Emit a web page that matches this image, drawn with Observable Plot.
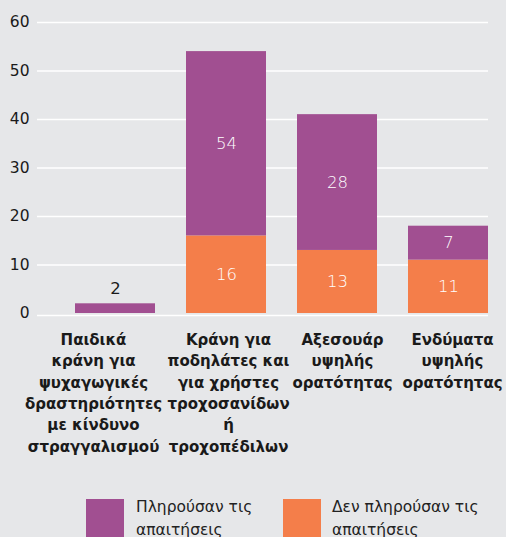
<!DOCTYPE html>
<html>
<head>
<meta charset="utf-8">
<script src="https://cdn.jsdelivr.net/npm/d3@7"></script>
<script src="https://cdn.jsdelivr.net/npm/@observablehq/plot@0.6"></script>
<style>
  html, body { margin: 0; padding: 0; background: #e6e7e9; overflow: hidden; }
  body { width: 506px; height: 537px; position: relative; font-family: "DejaVu Sans", sans-serif; }
  #chart svg { display: block; background: #e6e7e9; }
  .legend { position: absolute; top: 499px; left: 0; width: 506px; height: 60px; }
  .sw { position: absolute; top: 0; left: 0; width: 38px; height: 40px; }
  .lbl { position: absolute; top: -3px; font-size: 15.5px; line-height: 23px; color: #222; white-space: nowrap; }
</style>
</head>
<body>
<div id="chart"></div>
<div class="legend" id="legend"></div>
<script>
const categories = [
  "Παιδικά\nκράνη για\nψυχαγωγικές\nδραστηριότητες\nμε κίνδυνο\nστραγγαλισμού",
  "Κράνη για\nποδηλάτες και\nγια χρήστες\nτροχοσανίδων\nή\nτροχοπέδιλων",
  "Αξεσουάρ\nυψηλής\nορατότητας",
  "Ενδύματα\nυψηλής\nορατότητας"
];
const seriesNames = ["Πληρούσαν τις απαιτήσεις", "Δεν πληρούσαν τις απαιτήσεις"];
const metValues = [2, 38, 28, 7];
const metLabels = ["2", "54", "28", "7"];
const notMetValues = [0, 16, 13, 11];
const notMetLabels = ["", "16", "13", "11"];
const yTicks = [0, 10, 20, 30, 40, 50, 60];
const colors = ["#a14f91", "#f47e4a"];

const rows = [];
categories.forEach((c, i) => {
  rows.push({cat: c, series: seriesNames[1], value: notMetValues[i], label: notMetLabels[i]});
  rows.push({cat: c, series: seriesNames[0], value: metValues[i], label: metLabels[i]});
});

// horizontal nudges of the category labels (layout, as in the original)
const labelShift = [-22, 2, 5, 4];

const W = 506, H = 490;
const chart = Plot.plot({
  width: W,
  height: H,
  marginTop: 22,
  marginBottom: H - 313,
  marginLeft: 37,
  marginRight: 18,
  style: {background: "#e6e7e9", fontFamily: "DejaVu Sans, sans-serif"},
  x: {domain: categories, range: [42, 521], padding: 0.277, axis: null},
  y: {domain: [0, 60], axis: null},
  color: {domain: seriesNames, range: colors},
  marks: [
    Plot.ruleY(yTicks.filter(t => t > 0), {stroke: "white", strokeWidth: 1.5}),
    Plot.ruleY([0], {stroke: "white", strokeWidth: 1.5, dy: 2}),
    Plot.barY(rows, {x: "cat", y: "value", fill: "series", order: seriesNames.slice().reverse()}),
    Plot.text(rows, Plot.stackY({
      x: "cat", y: "value", z: "series", text: "label",
      order: seriesNames.slice().reverse(),
      filter: d => d.value >= 5,
      fill: "white", fontSize: 16.5, fontWeight: 200
    })),
    Plot.text(rows, Plot.stackY2({
      x: "cat", y: "value", z: "series", text: "label",
      order: seriesNames.slice().reverse(),
      filter: d => d.value > 0 && d.value < 5,
      fill: "#1a1a1a", fontSize: 16.5, dy: -15
    })),
    Plot.axisY({ticks: yTicks, tickSize: 0, tickPadding: 8, fontSize: 15.5, fill: "#1a1a1a", label: null, textAnchor: "end"}),
    ...categories.map((c, i) => Plot.text([c], {
      x: d => d, text: d => d, frameAnchor: "bottom", lineAnchor: "top",
      dy: 16.5, dx: labelShift[i], fontSize: 15, fontWeight: "bold", lineHeight: 1.42, fill: "#1a1a1a"
    }))
  ]
});
document.getElementById("chart").appendChild(chart);

const legend = document.getElementById("legend");
const legendPos = [[86, 136], [283, 332]];
const legendText = [["Πληρούσαν τις", "απαιτήσεις"], ["Δεν πληρούσαν τις", "απαιτήσεις"]];
seriesNames.forEach((s, i) => {
  const sw = document.createElement("div");
  sw.className = "sw";
  sw.style.left = legendPos[i][0] + "px";
  sw.style.background = colors[i];
  legend.appendChild(sw);
  const lb = document.createElement("div");
  lb.className = "lbl";
  lb.style.left = legendPos[i][1] + "px";
  lb.innerHTML = legendText[i].join("<br>");
  legend.appendChild(lb);
});
</script>
</body>
</html>
